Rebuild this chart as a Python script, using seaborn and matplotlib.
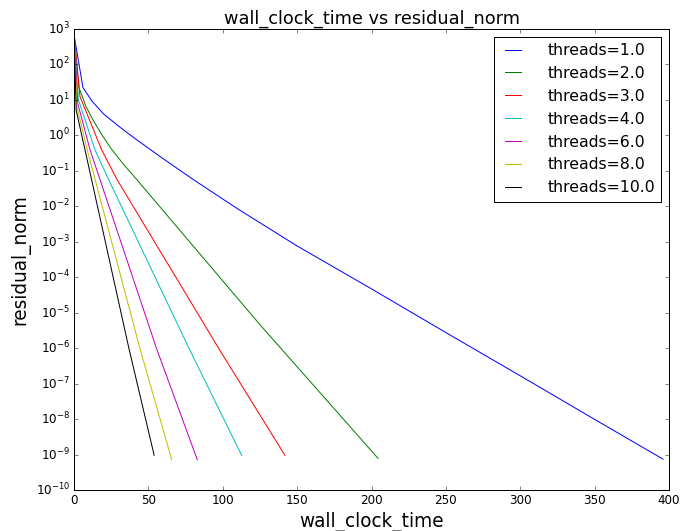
import numpy as np
import pandas as pd
import seaborn as sns
import matplotlib
import matplotlib.pyplot as plt
from matplotlib.ticker import NullLocator, LogLocator

# series (x in wall_clock_time, y = residual_norm)
t1_x = [0, 6, 12, 20, 30, 42, 60, 80, 110, 150, 200, 250, 300, 350, 396]
t1_y = [7e2, 22.4, 9.33, 3.98, 1.82, 0.759, 0.219, 5.75e-2, 8.5e-3, 7.6e-4,
        4.7e-5, 2.75e-6, 1.66e-7, 9.8e-9, 7.4e-10]
t2_x = [0, 3.4, 8, 13, 19, 25, 33, 42, 125, 204.4]
t2_y = [7e2, 22, 6.6, 2.6, 1.0, 0.42, 0.158, 5.8e-2, 4.6e-6, 7.8e-10]
t3_x = [0, 4, 18.6, 28.7, 97.5, 141.8]
t3_y = [7e2, 12.5, 0.39, 5.9e-2, 9.5e-7, 9.5e-10]
t4_x = [0, 3, 14.1, 23.1, 77.5, 112.7]
t4_y = [7e2, 10, 0.39, 5.9e-2, 9.5e-7, 9.5e-10]
t6_x = [0, 2.5, 10.8, 55.6, 82.9]
t6_y = [7e2, 8, 0.39, 9.5e-7, 7.1e-10]
t8_x = [0, 2, 8.9, 44.4, 65.7]
t8_y = [7e2, 6.3, 0.39, 9.5e-7, 7.1e-10]
t10_x = [0, 1.5, 7.4, 37, 53.9]
t10_y = [7e2, 5, 0.39, 9.5e-7, 9.5e-10]

threads = [1.0, 2.0, 3.0, 4.0, 6.0, 8.0, 10.0]
xs = [t1_x, t2_x, t3_x, t4_x, t6_x, t8_x, t10_x]
ys = [t1_y, t2_y, t3_y, t4_y, t6_y, t8_y, t10_y]

rows = []
for th, xv, yv in zip(threads, xs, ys):
    for a, b in zip(xv, yv):
        rows.append({"wall_clock_time": a, "residual_norm": b, "threads": f"threads={th}"})
df = pd.DataFrame(rows)

plt.style.use("classic")
matplotlib.rcParams["figure.facecolor"] = "white"
matplotlib.rcParams["savefig.facecolor"] = "white"

fig = plt.figure(figsize=(684 / 72, 531 / 72), dpi=72)
ax = fig.add_axes([74 / 684, 41 / 531, 595 / 684, 461 / 531])

palette = ["b", "g", "r", "c", "m", "y", "k"]
sns.lineplot(data=df, x="wall_clock_time", y="residual_norm", hue="threads",
             palette=palette, estimator=None, sort=False, ax=ax, linewidth=1.0)

ax.set_yscale("log")
ax.set_ylim(1e-10, 1e3)
ax.set_xlim(0, 400)
ax.yaxis.set_major_locator(LogLocator(base=10, numticks=20))
ax.yaxis.set_minor_locator(NullLocator())

ax.set_title("wall_clock_time vs residual_norm", fontsize=17.7)
ax.set_xlabel("wall_clock_time", fontsize=18.5)
ax.set_ylabel("residual_norm", fontsize=18.5)

handles, labels = ax.get_legend_handles_labels()
ax.legend(handles, labels, loc="upper right", fontsize=15.7,
          handlelength=1.6, handletextpad=1.4)

plt.savefig("out.png", dpi=72)
